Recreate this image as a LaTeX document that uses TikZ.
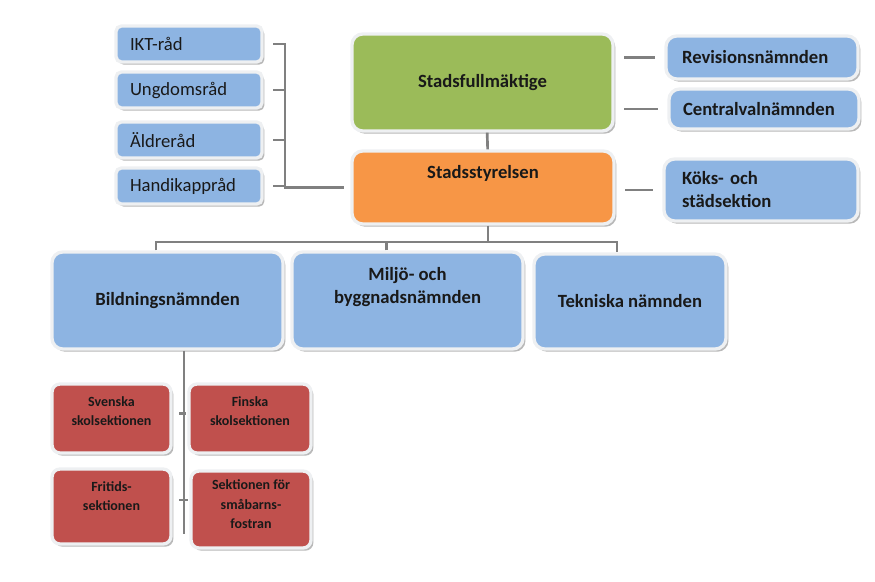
\documentclass[tikz,border=0pt]{standalone}
\usepackage{fontspec}
\setmainfont{Carlito}
\usetikzlibrary{shadows}
\definecolor{boxBlue}{RGB}{141,180,226}
\definecolor{boxGreen}{RGB}{155,187,89}
\definecolor{boxOrange}{RGB}{247,150,70}
\definecolor{boxRed}{RGB}{192,80,77}
\definecolor{rimGray}{RGB}{238,240,242}
\definecolor{lineGray}{RGB}{128,128,128}
\tikzset{
  box/.style={draw=rimGray, line width=2.5pt, rounded corners=8pt, align=center, text=black!90, font=\fontsize{14}{17.25}\selectfont\bfseries, drop shadow={shadow xshift=1.8pt, shadow yshift=-2pt, fill=black!55, opacity=0.5}},
  greenbox/.style={box, fill=boxGreen},
  orangebox/.style={box, fill=boxOrange},
  bluebox/.style={box, fill=boxBlue},
  redbox/.style={box, fill=boxRed, rounded corners=6pt, font=\fontsize{10.5}{14.5}\selectfont\bfseries},
  sidebox/.style={box, fill=boxBlue, rounded corners=4pt, align=left, text width=88.5pt, inner xsep=10.5pt, minimum height=27pt, font=\fontsize{14}{16}\selectfont},
  textup/.style={text height=0pt, text depth=#1},
  textdown/.style={text height=#1, text depth=0pt},
  conn/.style={draw=lineGray, line width=2pt},
  stub/.style={conn, shorten <=7pt, shorten >=7pt}
}
\begin{document}
\begin{tikzpicture}[x=0.75pt, y=-0.75pt]
  \useasboundingbox (0,0) rectangle (875,582);
  % top of the organisation
  \node[greenbox, minimum width=195.75pt, minimum height=72.75pt] (sf) at (482.5,82.5) {Stadsfullmäktige};
  \node[orangebox, minimum width=196.5pt, minimum height=54.75pt, textup=14.2pt] (ss) at (483,187.5) {Stadsstyrelsen};
  % councils on the left
  \node[sidebox] (ikt) at (189,44) {IKT-råd};
  \node[sidebox] (ung) at (189,90) {Ungdomsråd};
  \node[sidebox] (aldre) at (189,140) {Äldreråd};
  \node[sidebox] (handi) at (189,186) {Handikappråd};
  % boards on the right
  \node[bluebox, align=left, text width=120pt, inner xsep=12pt, minimum height=32.25pt] (rev) at (762,57.5) {Revisionsnämnden};
  \node[bluebox, align=left, text width=121.5pt, inner xsep=10.5pt, minimum height=30pt] (cv) at (764,109) {Centralvalnämnden};
  \node[bluebox, align=left, text width=118.5pt, inner xsep=13.5pt, minimum height=46.5pt] (ks) at (761,190) {Köks- och\\städsektion};
  % committees
  \node[bluebox, minimum width=173.25pt, minimum height=72.75pt] (bn) at (167.5,300.5) {Bildningsnämnden};
  \node[bluebox, minimum width=173.25pt, minimum height=72.75pt, textdown=3.8pt] (mb) at (407.5,300.5) {Miljö- och\\byggnadsnämnden};
  \node[bluebox, minimum width=144pt, minimum height=71.25pt] (tn) at (630,301.5) {Tekniska nämnden};
  % sections
  \node[redbox, minimum width=89.25pt, minimum height=51.75pt, textdown=10.5pt] (sv) at (111.5,418.5) {Svenska\\skolsektionen};
  \node[redbox, minimum width=91.5pt, minimum height=51.75pt, textdown=10.5pt] (fi) at (250,418.5) {Finska\\skolsektionen};
  \node[redbox, minimum width=89.25pt, minimum height=56.25pt, textdown=6pt] (fr) at (111.5,506.5) {Fritids-\\sektionen};
  \node[redbox, minimum width=90pt, minimum height=57.75pt, textdown=28.5pt] (sk) at (251,509.5) {Sektionen för\\småbarns-\\fostran};

  \coordinate (bus) at (285,0);
  \coordinate (rail) at (0,242);
  \draw[conn, shorten <=7pt, shorten >=5pt] (ikt.east) -- (ikt.east -| bus) -- (bus |- ss.west) -- (ss.west);
  \foreach \n in {ung,aldre,handi}
    \draw[conn, shorten <=7pt] (\n.east) -- (\n.east -| bus);
  \foreach \n/\m in {rev/sf,cv/sf,ks/ss}
    \draw[stub] (\n.west -| \m.east) -- (\n.west);
  \draw[conn] ([xshift=3.5pt]sf.south) -- ([xshift=3.5pt]ss.north);
  \draw[conn] ([xshift=3.75pt]ss.south) -- ([xshift=3.75pt]ss.south |- rail);
  \draw[conn] ([xshift=-8.6pt]bn.north) |- ([xshift=-9.75pt]tn.north |- rail) -- ([xshift=-9.75pt]tn.north);
  \draw[conn] ([xshift=-16pt]mb.north) -- ([xshift=-16pt]mb.north |- rail);
  \draw[conn, shorten >=12pt] ([xshift=12.4pt]bn.south) -- ([xshift=12.4pt]bn.south |- sk.south);
  \draw[conn, shorten <=5pt, shorten >=1pt] ([yshift=4pt]sv.east) -- ([yshift=4pt]fi.west);
  \draw[conn, shorten <=5pt, shorten >=1pt] ([yshift=4.9pt]fr.east) -- ([yshift=4.9pt]fr.east -| sk.west);
\end{tikzpicture}
\end{document}
